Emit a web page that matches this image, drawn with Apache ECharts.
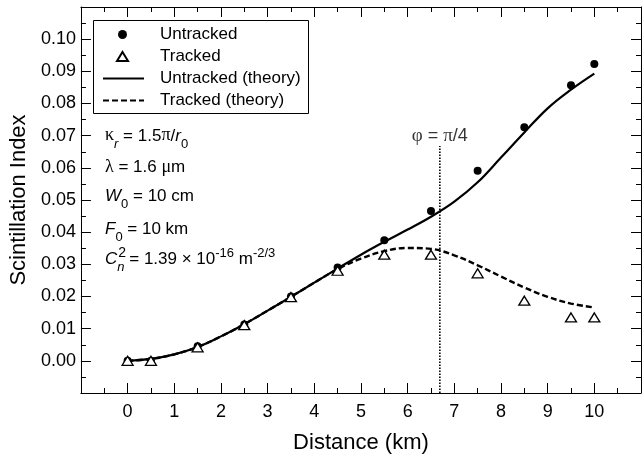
<!DOCTYPE html>
<html><head><meta charset="utf-8">
<script src="https://cdn.jsdelivr.net/npm/echarts@6/dist/echarts.min.js"></script>
<style>html,body{margin:0;padding:0;background:#fff}#c{width:644px;height:459px}</style>
</head><body><div id="c"></div>
<script>
// ---- data ----
const distances = [0, 0.5, 1.5, 2.5, 3.5, 4.5, 5.5, 6.5, 7.5, 8.5, 9.5, 10];
const untracked = [0.000, 0.000, 0.0045, 0.0113, 0.0200, 0.0290, 0.0375, 0.0466, 0.0591, 0.0726, 0.0857, 0.0923];
const tracked   = [0.000, 0.000, 0.0042, 0.0111, 0.0198, 0.0280, 0.0330, 0.0330, 0.0272, 0.0187, 0.0135, 0.0135];
const theoryX = [0, 0.5, 1, 1.5, 2, 2.5, 3, 3.5, 4, 4.5, 5, 5.5, 6, 6.5, 7, 7.5, 8, 8.5, 9, 9.5, 10];
const untrackedTheory = [0.0000, 0.0006, 0.0020, 0.0043, 0.0076, 0.0114, 0.0156, 0.0199, 0.0243, 0.0287, 0.0330, 0.0370, 0.0408, 0.0448, 0.0495, 0.0555, 0.0632, 0.0710, 0.0785, 0.0843, 0.0893];
const trackedTheory   = [0.0000, 0.0006, 0.0020, 0.0043, 0.0076, 0.0114, 0.0156, 0.0199, 0.0243, 0.0285, 0.0318, 0.0341, 0.0351, 0.0348, 0.0328, 0.0297, 0.0262, 0.0228, 0.0199, 0.0178, 0.0166];
const phiLineX = [6.69, 6.69];
const phiLineY = [-0.01, 0.0668];
const seriesNames = ['Untracked', 'Tracked', 'Untracked (theory)', 'Tracked (theory)'];
const xTickLabels = ['0','1','2','3','4','5','6','7','8','9','10'];
const yTickLabels = ['0.00','0.01','0.02','0.03','0.04','0.05','0.06','0.07','0.08','0.09','0.10'];

const SANS = 'Liberation Sans, Arial, sans-serif';
const SERIF = 'Liberation Serif, Times New Roman, serif';
const zip = (a, b) => a.map((v, i) => [v, b[i]]);

const axisBase = {
  type: 'value',
  axisLine: { show: true, onZero: false, lineStyle: { color: '#000', width: 1 } },
  axisTick: { show: true, inside: true, length: 10, lineStyle: { color: '#000', width: 1 } },
  minorTick: { show: true, splitNumber: 2, length: 5, lineStyle: { color: '#000', width: 1 } },
  splitLine: { show: false },
  minorSplitLine: { show: false }
};

const rich = {
  m:    { fontSize: 17, fontFamily: SANS, lineHeight: 20, verticalAlign: 'top', padding: [4,0,0,0], fill: '#000' },
  i:    { fontSize: 17, fontFamily: SANS, fontStyle: 'italic', lineHeight: 20, verticalAlign: 'top', padding: [4,0,0,0], fill: '#000' },
  ih:   { fontSize: 17, fontFamily: SANS, fontStyle: 'italic', lineHeight: 20, verticalAlign: 'top', padding: [4,0,0,0], fill: 'rgba(0,0,0,0)' },
  g:    { fontSize: 18, fontFamily: SERIF, lineHeight: 20, verticalAlign: 'top', padding: [3,0,0,0], fill: '#000' },
  sub:  { fontSize: 13, fontFamily: SANS, lineHeight: 13, verticalAlign: 'top', padding: [14,0,0,0], fill: '#000' },
  subi: { fontSize: 13, fontFamily: SANS, fontStyle: 'italic', lineHeight: 13, verticalAlign: 'top', padding: [14,0,0,0], fill: '#000' },
  sup:  { fontSize: 13, fontFamily: SANS, lineHeight: 13, verticalAlign: 'top', padding: [0,0,0,0], fill: '#000' },
  sup2: { fontSize: 14, fontFamily: SANS, lineHeight: 14, verticalAlign: 'top', padding: [0,0,0,1], fill: '#000' }
};
function note(top, text) {
  return { type: 'text', left: 105, top: top, z: 10, style: { text: text, rich: rich, fill: '#000' } };
}
const legendText = pad => ({ fontSize: 17, color: '#000', fontFamily: SANS, padding: [0, 0, 0, pad] });

const chart = echarts.init(document.getElementById('c'), null, { renderer: 'canvas' });
chart.setOption({
  animation: false,
  backgroundColor: '#fff',
  textStyle: { fontFamily: SANS },
  grid: { left: 75, top: 7, width: 571, height: 392 },
  legend: [
    {
      orient: 'vertical', left: 116, top: 26, padding: 0, itemGap: 5,
      itemWidth: 11, itemHeight: 9, selectedMode: false, z: 6,
      textStyle: legendText(27),
      data: [seriesNames[0], seriesNames[1]]
    },
    {
      orient: 'vertical', left: 102, top: 70, padding: 0, itemGap: 5,
      itemWidth: 41, itemHeight: 9, selectedMode: false, z: 6,
      textStyle: legendText(11),
      data: [
        { name: seriesNames[2], itemStyle: { opacity: 0 } },
        { name: seriesNames[3], itemStyle: { opacity: 0 } }
      ]
    }
  ],
  xAxis: [
    Object.assign({}, axisBase, {
      position: 'bottom', min: -1, max: 11, interval: 1,
      axisLabel: { fontSize: 18, color: '#000', margin: 10, fontFamily: SANS,
        formatter: v => { const k = Math.round(v); return (k >= 0 && k <= 10) ? xTickLabels[k] : ''; } },
      name: 'Distance (km)', nameLocation: 'middle', nameGap: 39,
      nameTextStyle: { fontSize: 22, color: '#000', fontFamily: SANS }
    }),
    Object.assign({}, axisBase, { position: 'top', min: -1, max: 11, interval: 1, axisLabel: { show: false } })
  ],
  yAxis: [
    Object.assign({}, axisBase, {
      position: 'left', min: -0.01, max: 0.11, interval: 0.01,
      axisLabel: { fontSize: 18, color: '#000', margin: 5, fontFamily: SANS,
        formatter: v => { const k = Math.round(v * 100); return (k >= 0 && k <= 10) ? yTickLabels[k] : ''; } },
      name: 'Scintillation Index', nameLocation: 'middle', nameGap: 41,
      nameTextStyle: { fontSize: 22, color: '#000', fontFamily: SANS }
    }),
    Object.assign({}, axisBase, { position: 'right', min: -0.01, max: 0.11, interval: 0.01, axisLabel: { show: false } })
  ],
  series: [
    { name: seriesNames[2], type: 'line', data: zip(theoryX, untrackedTheory), smooth: 0.4, symbol: 'none',
      lineStyle: { color: '#000', width: 2.2, type: 'solid' }, itemStyle: { color: '#000' }, z: 2 },
    { name: seriesNames[3], type: 'line', data: zip(theoryX, trackedTheory), smooth: 0.4, symbol: 'none',
      lineStyle: { color: '#000', width: 2.4, type: [6, 3] }, itemStyle: { color: '#000' }, z: 2 },
    { name: 'phi', type: 'line', data: zip(phiLineX, phiLineY), symbol: 'none',
      lineStyle: { color: '#000', width: 1.6, type: [1.5, 1.5] }, z: 1 },
    { name: 'phiLabel', type: 'scatter', data: [[phiLineX[1], phiLineY[1]]], symbolSize: 0, silent: true,
      label: { show: true, position: 'top', distance: 0,
        formatter: '{g|φ}{m| = }{g|π}{m|/4}',
        rich: {
          g: { fontSize: 19, fontFamily: SERIF, color: '#000' },
          m: { fontSize: 18, fontFamily: SANS, color: '#000' }
        } } },
    { name: seriesNames[0], type: 'scatter', data: zip(distances, untracked), symbol: 'circle', symbolSize: 8,
      itemStyle: { color: '#000', opacity: 1 }, z: 5 },
    { name: seriesNames[1], type: 'scatter', data: zip(distances, tracked), symbol: 'triangle', symbolSize: [11, 9],
      itemStyle: { color: '#fff', borderColor: '#000', borderWidth: 1.3, opacity: 1 }, z: 6 }
  ],
  graphic: [
    { type: 'rect', z: 3, shape: { x: 93.5, y: 20.5, width: 215, height: 93 },
      style: { fill: '#fff', stroke: '#000', lineWidth: 1 } },
    note(123.5, '{g|κ}{subi|r}{m| = 1.5}{g|π}{m|/}{i|r}{sub|0}'),
    note(155, '{g|λ}{m| = 1.6 }{g|μ}{m|m}'),
    note(183.5, '{i|W}{sub|0}{m| = 10 cm}'),
    note(216.5, '{i|F}{sub|0}{m| = 10 km}'),
    note(246.5, '{i|C}{subi|n}{m| = 1.39 × 10}{sup|-16}{m| m}{sup|-2/3}'),
    note(246.5, '{ih|C}{sup2|2}')
  ]
});
</script></body></html>
